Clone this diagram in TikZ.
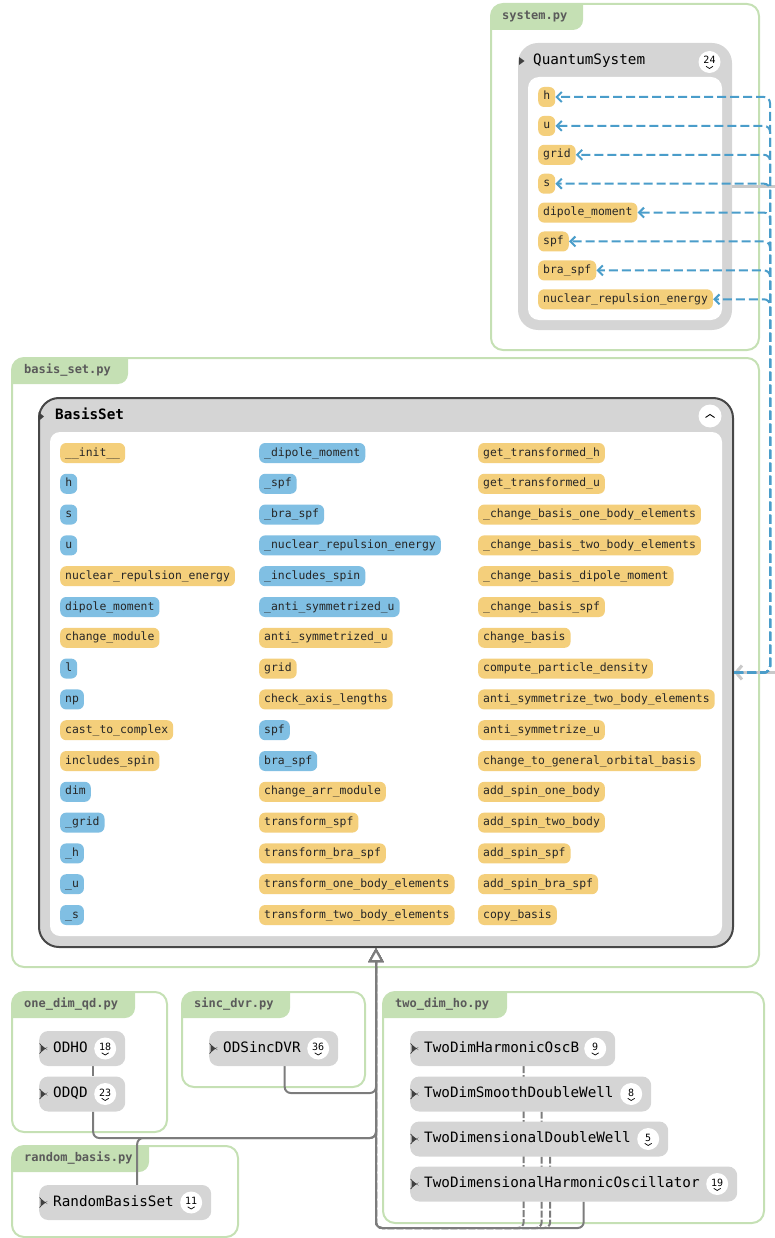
\documentclass[tikz,border=0pt]{standalone}
\usepackage{fontspec}
\setmainfont{DejaVu Sans Mono}
\usetikzlibrary{arrows.meta, positioning}

\definecolor{filegreen}{HTML}{C5E0B4}
\definecolor{filetext}{HTML}{5A5A5A}
\definecolor{clsgray}{HTML}{D5D5D5}
\definecolor{bsborder}{HTML}{474747}
\definecolor{meth}{HTML}{F4CF7B}
\definecolor{prop}{HTML}{80BFE3}
\definecolor{refblue}{HTML}{4A9DCA}
\definecolor{linkgray}{HTML}{7C7C7C}
\definecolor{assocgray}{HTML}{C9C9C9}

\newcommand\clsfont{\fontsize{14.3}{16}\selectfont}
\newcommand\memfont{\fontsize{11.4}{13}\selectfont}

\pgfdeclarelayer{files}
\pgfdeclarelayer{links}
\pgfsetlayers{files,links,main}

\begin{document}
\catcode`\_=12
\begin{tikzpicture}[
    x=1pt, y=-1pt,
    filebox/.style={
        draw=filegreen,
        line width=2pt,
        rounded corners=12pt,
        inner sep=0pt,
        path picture={
            \fill[filegreen, rounded corners=10pt]
                ([shift={(-20pt,20pt)}]path picture bounding box.north west)
                rectangle ([shift={(#1,-26pt)}]path picture bounding box.north west);
        }
    },
    filelabel/.style={
        font=\bfseries\fontsize{12}{14}\selectfont,
        text=filetext,
        inner sep=0pt,
        text height=9pt,
        text depth=2.5pt
    },
    clsbig/.style={
        rectangle,
        fill=clsgray,
        rounded corners=20pt,
        inner sep=0pt
    },
    clsbody/.style={
        fill=white,
        rounded corners=11pt,
        inner sep=0pt
    },
    clsname/.style={
        anchor=west,
        inner sep=0pt,
        font=\clsfont,
        text height=10pt,
        text depth=3pt
    },
    cls/.style={
        fill=clsgray,
        rounded corners=9pt,
        anchor=west,
        minimum height=35pt,
        inner xsep=14pt,
        inner ysep=0pt,
        align=left,
        text height=10pt,
        text depth=3pt,
        font=\clsfont,
        path picture={
            \fill[black!75] ([shift={(1.5pt,4pt)}]path picture bounding box.west)
                -- ++(5pt,-4pt) -- ++(-5pt,-4pt) -- cycle;
        }
    },
    tri/.style={fill=black!75},
    badge/.style={
        circle,
        fill=white,
        minimum size=22pt,
        inner sep=0pt,
        font=\fontsize{10}{10}\selectfont,
        text height=7.3pt,
        text depth=3.3pt,
        path picture={
            \draw[line width=0.7pt] ([shift={(-3.5pt,-4.3pt)}]path picture bounding box.center)
                -- ++(3.5pt,-2.2pt) -- ++(3.5pt,2.2pt);
        }
    },
    foldbadge/.style={
        circle,
        fill=white,
        minimum size=23pt,
        inner sep=0pt,
        path picture={
            \draw[line width=0.9pt] ([shift={(-4.5pt,-1.5pt)}]path picture bounding box.center)
                -- ++(4.5pt,3pt) -- ++(4.5pt,-3pt);
        }
    },
    member/.style={
        anchor=west,
        rounded corners=6pt,
        minimum height=20pt,
        minimum width=17pt,
        inner xsep=5pt,
        inner ysep=0pt,
        text height=8.5pt,
        text depth=2.5pt,
        text=black!85,
        font=\memfont
    },
    attrref/.style={
        draw=refblue,
        line width=2pt,
        dash pattern=on 9pt off 4pt,
        rounded corners=6pt,
        -{Straight Barb[length=5pt, width=10pt]}
    },
    owns/.style={
        draw=assocgray,
        line width=3pt,
        -{Straight Barb[length=6pt, width=14pt]}
    },
    inherit/.style={
        draw=linkgray,
        line width=2pt,
        rounded corners=6pt,
        -{Triangle[fill=white, length=14pt, width=15pt]}
    },
    linkline/.style={draw=linkgray, line width=2pt}
]

\useasboundingbox (0,0) rectangle (775,1238);

% files
\begin{pgfonlayer}{files}
\node[filebox=92pt, minimum width=268pt, minimum height=346pt] (f-sys) at (625,177) {};
\node[filelabel, below right=7pt and 12pt of f-sys.north west] (l-sys) {system.py};
\node[filebox=116pt, minimum width=747pt, minimum height=609pt] (f-bs) at (385.5,662.5) {};
\node[filelabel, below right=7pt and 13pt of f-bs.north west] (l-bs) {basis_set.py};
\node[filebox=123pt, minimum width=155pt, minimum height=140pt] (f-odq) at (89.5,1062) {};
\node[filelabel, below right=7pt and 13pt of f-odq.north west] (l-odq) {one_dim_qd.py};
\node[filebox=108pt, minimum width=183pt, minimum height=95pt] (f-sinc) at (273.5,1039.5) {};
\node[filelabel, below right=7pt and 13pt of f-sinc.north west] (l-sinc) {sinc_dvr.py};
\node[filebox=137pt, minimum width=226pt, minimum height=91pt] (f-rnd) at (125,1191.5) {};
\node[filelabel, below right=7pt and 13pt of f-rnd.north west] (l-rnd) {random_basis.py};
\node[filebox=124pt, minimum width=381pt, minimum height=231pt] (f-tdh) at (573.5,1107.5) {};
\node[filelabel, below right=7pt and 13pt of f-tdh.north west] (l-tdh) {two_dim_ho.py};
\end{pgfonlayer}

% QuantumSystem
\node[clsbig, minimum width=214pt, minimum height=287pt] (qs) at (625,186.5) {};
\node[clsbody, minimum width=194pt, minimum height=243pt] (qs-body) at (625,198.5) {};
\node[clsname] (qs-name) at (533,61) {QuantumSystem};
\fill[tri] (519,57) -- (524.5,61) -- (519,65) -- cycle;
\node[badge] (qs-n) at (709.5,62) {24};
\foreach \txt [count=\i] in {h,u,grid,s,dipole_moment,spf,bra_spf,nuclear_repulsion_energy}
    \node[member, fill=meth] (qs-\i) at (538, 68.1+28.9*\i) {\txt};

% BasisSet
\node[clsbig, draw=bsborder, line width=2pt, minimum width=694pt, minimum height=549pt] (bs) at (386,672.5) {};
\node[clsbody, rounded corners=10pt, minimum width=672pt, minimum height=504pt] (bs-body) at (386,684) {};
\node[clsname, font=\clsfont\bfseries] (bs-name) at (55,416) {BasisSet};
\fill[tri] (38.5,412) -- (44,416.5) -- (38.5,421) -- cycle;
\node[foldbadge] (bs-fold) at (710,416) {};

\foreach \txt/\kind [count=\i from 0] in {__init__/meth,h/prop,s/prop,u/prop,
        nuclear_repulsion_energy/meth,dipole_moment/prop,change_module/meth,l/prop,
        np/prop,cast_to_complex/meth,includes_spin/meth,dim/prop,_grid/prop,
        _h/prop,_u/prop,_s/prop}
    \node[member, fill=\kind] (c1-\i) at (60, 453+30.8*\i) {\txt};
\foreach \txt/\kind [count=\i from 0] in {_dipole_moment/prop,_spf/prop,_bra_spf/prop,
        _nuclear_repulsion_energy/prop,_includes_spin/prop,_anti_symmetrized_u/prop,
        anti_symmetrized_u/meth,grid/meth,check_axis_lengths/meth,spf/prop,bra_spf/prop,
        change_arr_module/meth,transform_spf/meth,transform_bra_spf/meth,
        transform_one_body_elements/meth,transform_two_body_elements/meth}
    \node[member, fill=\kind] (c2-\i) at (259, 453+30.8*\i) {\txt};
\foreach \txt [count=\i from 0] in {get_transformed_h,get_transformed_u,
        _change_basis_one_body_elements,_change_basis_two_body_elements,
        _change_basis_dipole_moment,_change_basis_spf,change_basis,
        compute_particle_density,anti_symmetrize_two_body_elements,
        anti_symmetrize_u,change_to_general_orbital_basis,add_spin_one_body,
        add_spin_two_body,add_spin_spf,add_spin_bra_spf,copy_basis}
    \node[member, fill=meth] (c3-\i) at (478, 453+30.8*\i) {\txt};

% subclasses
\node[cls, text width=58pt] (odho) at (39,1048.5) {ODHO};
\node[badge, left=9pt of odho.east] (odho-n) {18};
\node[cls, text width=58pt] (odqd) at (39,1094) {ODQD};
\node[badge, left=9pt of odqd.east] (odqd-n) {23};
\node[cls, text width=101pt] (sdvr) at (209,1048.5) {ODSincDVR};
\node[badge, left=9pt of sdvr.east] (sdvr-n) {36};
\node[cls, text width=144pt] (rbs) at (39,1202.5) {RandomBasisSet};
\node[badge, left=9pt of rbs.east] (rbs-n) {11};
\node[cls, text width=177pt] (oscb) at (410,1048.5) {TwoDimHarmonicOscB};
\node[badge, left=9pt of oscb.east] (oscb-n) {9};
\node[cls, text width=213pt] (smooth) at (410,1094) {TwoDimSmoothDoubleWell};
\node[badge, left=9pt of smooth.east] (smooth-n) {8};
\node[cls, text width=230pt] (dwell) at (410,1139) {TwoDimensionalDoubleWell};
\node[badge, left=9pt of dwell.east] (dwell-n) {5};
\node[cls, text width=299pt] (hosc) at (410,1184) {TwoDimensionalHarmonicOscillator};
\node[badge, left=9pt of hosc.east] (hosc-n) {19};

% inheritance
\begin{pgfonlayer}{links}
\coordinate (base) at ([xshift=-10pt]bs.south);
\coordinate (jsinc) at (376,1093);
\coordinate (jqd) at (376,1138);
\coordinate (jho) at (376,1228);
\draw[linkline] ([xshift=11pt]odho.south) -- ([xshift=11pt]odqd.north);
\draw[inherit] ([xshift=11pt]sdvr.south) |- (jsinc) -- (base);
\draw[inherit] ([xshift=11pt]odqd.south) |- (jqd) -- (base);
\draw[inherit] ([xshift=12pt]rbs.north) |- (jqd) -- (base);
\draw[inherit, dash pattern=on 7pt off 2pt] ([xshift=11pt]oscb.south) |- (jho) -- (base);
\draw[inherit, dash pattern=on 7pt off 2pt] ([xshift=11pt]smooth.south) |- (jho) -- (base);
\draw[inherit, dash pattern=on 7pt off 2pt] ([xshift=11pt]dwell.south) |- (jho) -- (base);
\draw[inherit] ([xshift=10pt]hosc.south) |- (jho) -- (base);
\end{pgfonlayer}

% QuantumSystem -> BasisSet
\coordinate (far) at (790,0);
\coordinate (bus) at (770,673);
\draw[owns] (qs.east) -- (qs.east -| far) |- (bs.east);
\foreach \i in {1,...,8}
    \draw[attrref] (bs.east) -| (bus |- qs-\i.east) -- (qs-\i.east);

\end{tikzpicture}
\end{document}
